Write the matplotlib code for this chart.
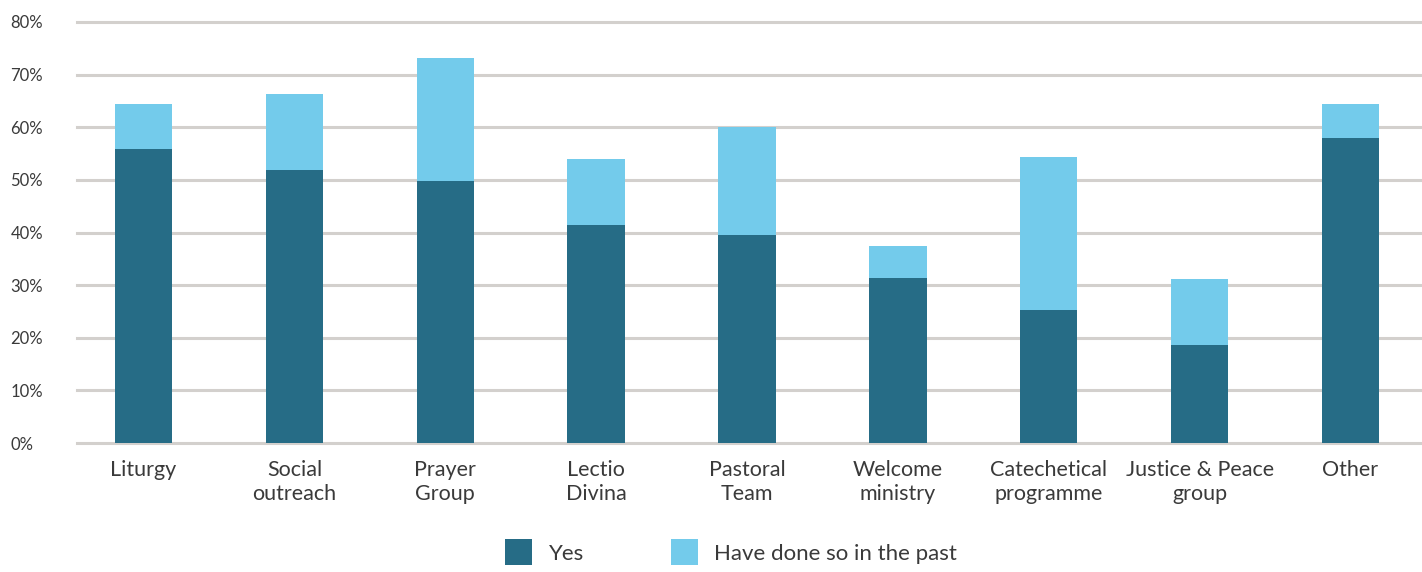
import matplotlib
matplotlib.use("Agg")
import matplotlib.pyplot as plt
import numpy as np

categories = ["Liturgy", "Social\noutreach", "Prayer\nGroup", "Lectio\nDivina", "Pastoral\nTeam",
              "Welcome\nministry", "Catechetical\nprogramme", "Justice & Peace\ngroup", "Other"]
yes = [55.8, 51.8, 49.7, 41.5, 39.6, 31.3, 25.2, 18.7, 58.0]
past = [8.6, 14.6, 23.4, 12.5, 20.5, 6.2, 29.2, 12.5, 6.4]
yticks = [0, 10, 20, 30, 40, 50, 60, 70, 80]
ytick_labels = ["0%", "10%", "20%", "30%", "40%", "50%", "60%", "70%", "80%"]

dark = "#266c86"
light = "#73cbeb"
grid_col = "#d3d0cd"
text_col = "#3a3a3a"

plt.rcParams['font.family'] = ['Lato', 'DejaVu Sans']

fig = plt.figure(figsize=(14.22, 5.72), dpi=100)
ax = fig.add_axes([77/1422, 129/572, 1 - 77/1422, (443-22)/572])

x = np.arange(len(categories))
w = 0.38
ax.bar(x, yes, width=w, color=dark, label="Yes", zorder=3)
ax.bar(x, past, width=w, bottom=yes, color=light, label="Have done so in the past", zorder=3)

ax.set_ylim(0, 80)
ax.set_xlim(-(143.5-77)/150.9, 8 + (1422-1350.5)/150.9)
ax.set_yticks(yticks)
ax.set_yticklabels(ytick_labels, fontsize=12, color=text_col)
ax.set_xticks(x)
ax.set_xticklabels(categories, fontsize=15.5, color=text_col, linespacing=1.25)
ax.tick_params(axis='both', length=0)
ax.tick_params(axis='y', pad=48)
ax.tick_params(axis='x', pad=12)
for lab in ax.get_yticklabels():
    lab.set_horizontalalignment('left')
for yv in yticks:
    ax.axhline(yv, color=grid_col, lw=2.2, zorder=1, clip_on=False)
for s in ax.spines.values():
    s.set_visible(False)

leg = fig.legend(*ax.get_legend_handles_labels(), loc='upper left',
                 bbox_to_anchor=(505/1422, 1 - 539/572), bbox_transform=fig.transFigure,
                 ncol=2, frameon=False, borderpad=0, borderaxespad=0,
                 prop={'size': 16}, handlelength=1.22, handleheight=1.45,
                 columnspacing=3.9, handletextpad=0.75, labelcolor=text_col)

fig.savefig("out.png", dpi=100)
